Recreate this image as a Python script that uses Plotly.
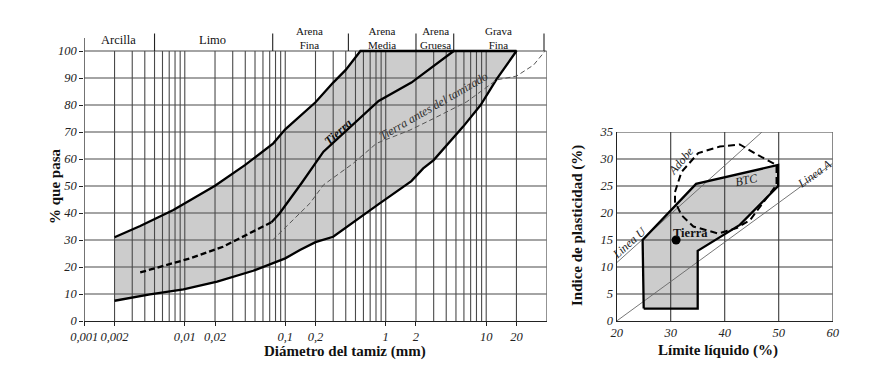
import numpy as np
import plotly.graph_objects as go

# ---------------- data: left chart (granulometry) ----------------
band_upper_x = [0.002, 0.0036, 0.0077, 0.02, 0.04, 0.076, 0.1, 0.2, 0.3, 0.4, 0.56]
band_upper_y = [31, 35.2, 41.1, 50.1, 57.8, 65.8, 71, 81, 88.3, 93, 100]
band_top_x = [0.56, 20]
band_top_y = [100, 100]
band_lower_x = [20, 12.7, 8.8, 5.9, 3.0, 2.36, 1.8, 0.85, 0.3, 0.2, 0.14, 0.1, 0.048, 0.021, 0.0097, 0.0045, 0.002]
band_lower_y = [100, 89.6, 80, 72, 59.6, 56.5, 51.8, 43.3, 31.2, 29.2, 26.3, 23.2, 18.6, 14.6, 11.7, 9.9, 7.5]

tierra_dash_x = [0.0036, 0.0113, 0.024, 0.073]
tierra_dash_y = [18, 23.2, 27.5, 36.6]
tierra_solid_x = [0.073, 0.088, 0.145, 0.24, 0.85, 1.8, 4.75]
tierra_solid_y = [36.6, 39.9, 51, 62.7, 81.5, 88.3, 100]

antes_x = [0.075, 0.135, 0.176, 0.24, 0.475, 0.81, 1.74, 3.0, 6.4, 12.7, 20, 29.6, 38.6]
antes_y = [30, 39.5, 43.6, 50.4, 58.4, 65.8, 70.7, 75, 81.2, 89.3, 90.7, 94.8, 100]

x_tick_vals = [0.001, 0.002, 0.01, 0.02, 0.1, 0.2, 1, 2, 10, 20]
x_tick_text = ["0,001", "0,002", "0,01", "0,02", "0,1", "0,2", "1", "2", "10", "20"]
y_tick_vals = [0, 10, 20, 30, 40, 50, 60, 70, 80, 90, 100]

decades = [0.001, 0.01, 0.1, 1]
extra_grid_x = [10, 20, 40]
x_min, x_max = 0.001, 40

sieve_names = ["#270", "#200", "#40", "#10", "#4", "3/4\""]
sieve_x = [0.005, 0.075, 0.425, 2, 4.75, 37.6]

zone_labels = [("Arcilla", 0.0022, None), ("Limo", 0.019, None),
               ("Arena", 0.176, "Fina"), ("Arena", 0.91, "Media"),
               ("Arena", 3.1, "Gruesa"), ("Grava", 13.3, "Fina")]

# ---------------- data: right chart (plasticity) ----------------
btc_ll = [25, 35, 35, 42.8, 49.9, 49.9, 34.7, 24.8, 25]
btc_pi = [2.3, 2.3, 13, 17.8, 25, 28.9, 25.4, 15, 2.3]
adobe_ll = [30.8, 32, 35.1, 39.1, 42.8, 46.2, 49.6, 49.6, 44.7, 42.2, 38.8, 34.2, 32, 30.8, 30.8]
adobe_pi = [23.9, 27.6, 31.1, 32.3, 32.7, 30.7, 28.9, 25.2, 18.7, 17.2, 16.2, 17.5, 19.6, 22.1, 23.9]
lineaU_ll = [20, 46.9]
lineaU_pi = [10.8, 35]
lineaA_ll = [20, 60]
lineaA_pi = [0, 29.2]
tierra_ll = [31]
tierra_pi = [15]
r_x_grid = [30, 40, 50, 60]
r_y_grid = [5, 10, 15, 20, 25, 30, 35]

SERIF = "Liberation Serif"
W, H = 882, 377
OFF = 8  # page body margin offset


def xp(p):
    return (p - OFF) / W


def yp(p):
    return (H - (p - OFF)) / H


fig = go.Figure()

# ---- left chart ----
fig.add_trace(go.Scatter(
    x=band_upper_x + band_top_x[1:] + band_lower_x[1:],
    y=band_upper_y + band_top_y[1:] + band_lower_y[1:],
    fill="toself", fillcolor="#cccccc", mode="lines", line=dict(width=0),
    hoverinfo="skip", xaxis="x", yaxis="y"))

gx, gy = [], []
for d in decades:
    for m in range(1, 10):
        v = d * m
        if v <= x_min:
            continue
        gx += [v, v, None]
        gy += [0, 100, None]
for v in extra_grid_x:
    gx += [v, v, None]
    gy += [0, 100, None]
for yv in y_tick_vals[1:]:
    gx += [x_min, x_max, None]
    gy += [yv, yv, None]
fig.add_trace(go.Scatter(x=gx, y=gy, mode="lines", line=dict(color="#4a4a4a", width=1.1),
                         hoverinfo="skip", xaxis="x", yaxis="y"))
fig.add_trace(go.Scatter(x=[x_min, x_min], y=[0, 104.8], mode="lines",
                         line=dict(color="#222", width=1.2), hoverinfo="skip", xaxis="x", yaxis="y"))
sx, sy = [], []
for v in sieve_x:
    sx += [v, v, None]
    sy += [100, 106.5, None]
fig.add_trace(go.Scatter(x=sx, y=sy, mode="lines", line=dict(color="#222", width=1.1),
                         hoverinfo="skip", xaxis="x", yaxis="y"))

fig.add_trace(go.Scatter(x=band_upper_x + band_top_x[1:] + band_lower_x[1:],
                         y=band_upper_y + band_top_y[1:] + band_lower_y[1:],
                         mode="lines", line=dict(color="black", width=2.3),
                         hoverinfo="skip", xaxis="x", yaxis="y"))
fig.add_trace(go.Scatter(x=antes_x, y=antes_y, mode="lines",
                         line=dict(color="#555", width=1, dash="5px,3px"),
                         hoverinfo="skip", xaxis="x", yaxis="y"))
fig.add_trace(go.Scatter(x=tierra_dash_x, y=tierra_dash_y, mode="lines",
                         line=dict(color="black", width=2.3, dash="6px,3px"),
                         hoverinfo="skip", xaxis="x", yaxis="y"))
fig.add_trace(go.Scatter(x=tierra_solid_x, y=tierra_solid_y, mode="lines",
                         line=dict(color="black", width=2.3),
                         hoverinfo="skip", xaxis="x", yaxis="y"))

# ---- right chart ----
fig.add_trace(go.Scatter(x=btc_ll, y=btc_pi, fill="toself", fillcolor="#cccccc", mode="lines",
                         line=dict(width=0), hoverinfo="skip", xaxis="x2", yaxis="y2"))
rgx, rgy = [], []
for v in r_x_grid:
    rgx += [v, v, None]
    rgy += [0, 35, None]
for v in r_y_grid:
    rgx += [20, 60, None]
    rgy += [v, v, None]
fig.add_trace(go.Scatter(x=rgx, y=rgy, mode="lines", line=dict(color="#3a3a3a", width=1.1),
                         hoverinfo="skip", xaxis="x2", yaxis="y2"))
fig.add_trace(go.Scatter(x=lineaU_ll, y=lineaU_pi, mode="lines", line=dict(color="#666", width=0.9),
                         hoverinfo="skip", xaxis="x2", yaxis="y2"))
fig.add_trace(go.Scatter(x=lineaA_ll, y=lineaA_pi, mode="lines", line=dict(color="#666", width=0.9),
                         hoverinfo="skip", xaxis="x2", yaxis="y2"))
fig.add_trace(go.Scatter(x=btc_ll, y=btc_pi, mode="lines", line=dict(color="black", width=2.3),
                         hoverinfo="skip", xaxis="x2", yaxis="y2"))
fig.add_trace(go.Scatter(x=adobe_ll, y=adobe_pi, mode="lines",
                         line=dict(color="black", width=2, dash="7px,4px"),
                         hoverinfo="skip", xaxis="x2", yaxis="y2"))
fig.add_trace(go.Scatter(x=tierra_ll, y=tierra_pi, mode="markers",
                         marker=dict(color="black", size=9), hoverinfo="skip", xaxis="x2", yaxis="y2"))

# ---- layout ----
tickfont = dict(family=SERIF, size=12.5, color="#222", style="italic")
fig.update_layout(
    width=W, height=H, margin=dict(l=0, r=0, t=0, b=0, autoexpand=False),
    paper_bgcolor="white", plot_bgcolor="rgba(0,0,0,0)", showlegend=False,
    xaxis=dict(type="log", range=[np.log10(x_min), np.log10(x_max)],
               domain=[xp(84.3), xp(546.7)], anchor="y", automargin=False, tickangle=0,
               showgrid=False, zeroline=False, showline=True, linecolor="#222", linewidth=1.2,
               ticks="outside", ticklen=4, tickcolor="#222",
               tickvals=x_tick_vals, ticktext=x_tick_text, tickfont=tickfont),
    yaxis=dict(range=[0, 108], domain=[yp(321), yp(321 - 108 * 2.7)], anchor="x", automargin=False,
               showgrid=False, zeroline=False, showline=False,
               ticks="outside", ticklen=4, tickcolor="#222",
               tickvals=y_tick_vals, tickfont=tickfont),
    xaxis2=dict(range=[20, 60], domain=[xp(616.7), xp(832.7)], anchor="y2", automargin=False, tickangle=0,
                showgrid=False, zeroline=False, showline=True, linecolor="#222", linewidth=1.2,
                ticks="", tickvals=[20, 30, 40, 50, 60], tickfont=tickfont),
    yaxis2=dict(range=[0, 35], domain=[yp(321), yp(132)], anchor="x2", automargin=False,
                showgrid=False, zeroline=False, showline=True, linecolor="#222", linewidth=1.2,
                ticks="", tickvals=[0, 5, 10, 15, 20, 25, 30, 35], tickfont=tickfont),
)

ann = []


def yl(p):
    return (321 - p) / 2.7


def A(**kw):
    kw.setdefault("showarrow", False)
    kw.setdefault("xanchor", "center")
    kw.setdefault("yanchor", "middle")
    ann.append(kw)


for name, xv, second in zone_labels:
    if second is None:
        A(x=np.log10(xv), y=yl(40), xref="x", yref="y", text=name,
          font=dict(family=SERIF, size=12.5, color="#111"))
    else:
        A(x=np.log10(xv), y=yl(38), xref="x", yref="y", text=name + "<br>" + second,
          borderpad=0, font=dict(family=SERIF, size=11, color="#111"))
for name, xv in zip(sieve_names, sieve_x):
    A(x=np.log10(xv), y=yl(28.5), xref="x", yref="y", text="<b>" + name + "</b>",
      borderpad=0, font=dict(family=SERIF, size=9.5, color="#111"))

A(x=np.log10(0.338), y=70.1, xref="x", yref="y", text="<b>Tierra</b>", textangle=-42,
  font=dict(family=SERIF, size=12.5, color="#111", style="italic"))
A(x=np.log10(3.0), y=79.6, xref="x", yref="y", text="Tierra antes del tamizado", textangle=-30,
  font=dict(family=SERIF, size=12, color="#333", style="italic"))

A(x=xp(345), y=yp(351.5), xref="paper", yref="paper", text="<b>Diámetro del tamiz (mm)</b>",
  borderpad=0, font=dict(family=SERIF, size=15, color="#111"))
A(x=xp(55), y=yp(186), xref="paper", yref="paper", text="<b>% que pasa</b>", textangle=-90,
  font=dict(family=SERIF, size=15, color="#111"))
A(x=xp(718), y=yp(350.5), xref="paper", yref="paper", text="<b>Límite líquido (%)</b>",
  borderpad=0, font=dict(family=SERIF, size=15, color="#111"))
A(x=xp(577), y=yp(226), xref="paper", yref="paper", text="<b>Indice de plasticidad (%)</b>",
  textangle=-90, font=dict(family=SERIF, size=15, color="#111"))

A(x=31.9, y=29.6, xref="x2", yref="y2", text="Adobe", textangle=-50,
  font=dict(family=SERIF, size=12, color="#222", style="italic"))
A(x=44.1, y=26.2, xref="x2", yref="y2", text="BTC", textangle=-12,
  font=dict(family=SERIF, size=12, color="#222", style="italic"))
A(x=56.6, y=27.2, xref="x2", yref="y2", text="Linea A", textangle=-36,
  font=dict(family=SERIF, size=12, color="#222", style="italic"))
A(x=22.3, y=14.4, xref="x2", yref="y2", text="Linea U", textangle=-42,
  font=dict(family=SERIF, size=12, color="#222", style="italic"))
A(x=33.6, y=16.3, xref="x2", yref="y2", text="<b>Tierra</b>",
  font=dict(family=SERIF, size=12.5, color="#111"))

fig.update_layout(annotations=ann)
fig.write_html("out.html")
